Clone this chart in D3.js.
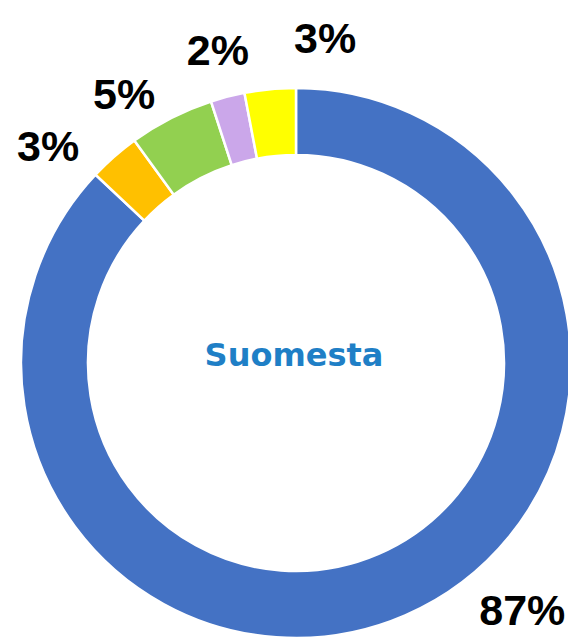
<!DOCTYPE html>
<html>
<head>
<meta charset="utf-8">
<script src="https://cdn.jsdelivr.net/npm/d3@7"></script>
<style>
  body { margin: 0; background: #fff; }
</style>
</head>
<body>
<div id="chart"></div>
<script>
// data (clockwise from 12 o'clock)
const categories = ["a", "b", "c", "d", "e"];
const values = [87, 3, 5, 2, 3];
const labels = ["87%", "3%", "5%", "2%", "3%"];
const centerTitle = "Suomesta";

const colors = ["#4472C4", "#FFC000", "#92D050", "#CBA7EA", "#FFFF00"];

// label placement tweaks (degrees, px) - excel pushes labels around to avoid overlap
const labelAngleShift = [-19.1, -7.3, -5.5, 0.4, 10.5];
const labelRadius = [335, 330, 320, 323, 327];

const width = 568, height = 638;
const cx = 296, cy = 363;
const outerR = 275, innerR = 208;

const svg = d3.select("#chart")
    .append("svg")
    .attr("width", width)
    .attr("height", height)
    .append("g")
    .attr("transform", `translate(${cx},${cy})`);

const pie = d3.pie()
    .sort(null)
    .value(d => d.value);

const data = categories.map((c, i) => ({ key: c, value: values[i], label: labels[i], i: i }));
const arcs = pie(data);

const arc = d3.arc()
    .innerRadius(innerR)
    .outerRadius(outerR);

svg.selectAll("path")
    .data(arcs)
    .join("path")
    .attr("d", arc)
    .attr("fill", d => colors[d.data.i])
    .attr("stroke", "#fff")
    .attr("stroke-width", 2.5);

// value labels
svg.selectAll("text.lbl")
    .data(arcs)
    .join("text")
    .attr("class", "lbl")
    .attr("x", d => {
        const a = (d.startAngle + d.endAngle) / 2 + labelAngleShift[d.data.i] * Math.PI / 180;
        return Math.sin(a) * labelRadius[d.data.i];
    })
    .attr("y", d => {
        const a = (d.startAngle + d.endAngle) / 2 + labelAngleShift[d.data.i] * Math.PI / 180;
        return -Math.cos(a) * labelRadius[d.data.i];
    })
    .attr("dy", "0.36em")
    .attr("text-anchor", "middle")
    .style("font-family", "'Liberation Sans', Arial, sans-serif")
    .style("font-weight", "bold")
    .style("font-size", "43px")
    .style("fill", "#000")
    .text(d => d.data.label);

// centre title
svg.append("text")
    .attr("x", -2)
    .attr("y", 3)
    .attr("text-anchor", "middle")
    .style("font-family", "'DejaVu Sans', sans-serif")
    .style("font-weight", "bold")
    .style("font-size", "32px")
    .style("fill", "#1F7FC6")
    .text(centerTitle);
</script>
</body>
</html>
